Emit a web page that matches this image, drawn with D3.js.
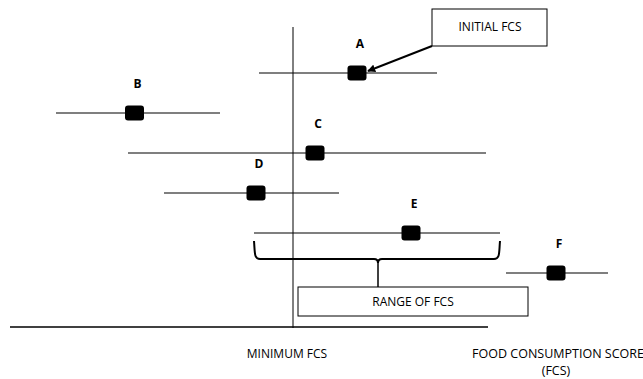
<!DOCTYPE html>
<html lang="en">
<head>
    <meta charset="UTF-8">
    <title>Food Consumption Score</title>
    <script src="https://d3js.org/d3.v7.min.js"></script>
    <style>
        body { margin: 0; background: #fff; }
        svg text { font-family: "Open Sans", sans-serif; fill: #000; }
    </style>
</head>
<body>
    <svg id="chart" width="643" height="379"></svg>

    <script>
        // Datos (puntaje FCS estimado de la figura)
        const groups = ["A", "B", "C", "D", "E", "F"];
        const lowFCS = [49.8, 9.2, 23.6, 30.8, 48.8, 99.2];
        const initialFCS = [69.4, 24.9, 61.0, 49.2, 80.2, 109.2];
        const highFCS = [85.4, 42.0, 95.2, 65.8, 98.0, 119.6];
        const minimumFCS = 56.6;
        const axisMax = 95.6;
        const rangeGroup = "E";
        const arrowGroup = "A";

        const svg = d3.select("#chart");

        // Escalas
        const x = d3.scaleLinear().domain([0, 120]).range([10, 610]);
        const y = d3.scalePoint().domain(groups).range([73, 273]);

        const data = groups.map((g, i) => ({ g, lo: lowFCS[i], init: initialFCS[i], hi: highFCS[i] }));

        // Eje horizontal
        svg.append("line")
           .attr("x1", x(0)).attr("x2", x(axisMax))
           .attr("y1", 327).attr("y2", 327)
           .attr("stroke", "#000").attr("stroke-width", 1.3);

        // Línea de FCS mínimo
        svg.append("line")
           .attr("x1", x(minimumFCS)).attr("x2", x(minimumFCS))
           .attr("y1", 27).attr("y2", 328)
           .attr("stroke", "#000").attr("stroke-width", 1);

        // Rangos
        svg.selectAll(".range")
           .data(data)
           .enter()
           .append("line")
           .attr("x1", d => x(d.lo))
           .attr("x2", d => x(d.hi))
           .attr("y1", d => y(d.g))
           .attr("y2", d => y(d.g))
           .attr("stroke", "#000")
           .attr("stroke-width", 1.1);

        // Marcadores del FCS inicial
        svg.selectAll(".marker")
           .data(data)
           .enter()
           .append("rect")
           .attr("x", d => x(d.init) - 9.5)
           .attr("y", d => y(d.g) - 7.5)
           .attr("width", 19)
           .attr("height", 15)
           .attr("rx", 3)
           .attr("fill", "#000");

        // Letras
        svg.selectAll(".label")
           .data(data)
           .enter()
           .append("text")
           .attr("x", d => x(d.init) + 3)
           .attr("y", d => y(d.g) - 25)
           .attr("text-anchor", "middle")
           .attr("font-size", "12px")
           .attr("font-weight", "bold")
           .text(d => d.g);

        // Caja "INITIAL FCS" con flecha
        svg.append("defs").append("marker")
           .attr("id", "arrow")
           .attr("viewBox", "0 0 10 10")
           .attr("refX", 9).attr("refY", 5)
           .attr("markerWidth", 4).attr("markerHeight", 4)
           .attr("orient", "auto")
           .append("path")
           .attr("d", "M0,0L10,5L0,10z")
           .attr("fill", "#000");

        const a = data.find(d => d.g === arrowGroup);
        svg.append("rect")
           .attr("x", 432).attr("y", 9)
           .attr("width", 115).attr("height", 37)
           .attr("fill", "#fff").attr("stroke", "#000").attr("stroke-width", 1);
        svg.append("text")
           .attr("x", 490).attr("y", 31)
           .attr("text-anchor", "middle")
           .attr("font-size", "12px")
           .text("INITIAL FCS");
        svg.append("line")
           .attr("x1", 432).attr("y1", 46)
           .attr("x2", x(a.init) + 11).attr("y2", y(a.g) - 2)
           .attr("stroke", "#000").attr("stroke-width", 2)
           .attr("marker-end", "url(#arrow)");

        // Llave del rango
        const e = data.find(d => d.g === rangeGroup);
        const bx0 = x(e.lo), bx1 = x(e.hi), bm = (bx0 + bx1) / 2 + 1;
        const by0 = y(e.g) + 8, by1 = y(e.g) + 26;
        svg.append("path")
           .attr("d", `M${bx0},${by0} C${bx0 + 1},${by0 + 12} ${bx0},${by1} ${bx0 + 6},${by1}
                       L${bm - 4},${by1} Q${bm},${by1} ${bm},${by1 + 4}
                       Q${bm},${by1} ${bm + 4},${by1} L${bx1 - 6},${by1}
                       C${bx1},${by1} ${bx1 - 1},${by0 + 12} ${bx1},${by0}`)
           .attr("fill", "none").attr("stroke", "#000").attr("stroke-width", 2);
        svg.append("line")
           .attr("x1", bm).attr("x2", bm)
           .attr("y1", by1 + 3).attr("y2", 287)
           .attr("stroke", "#000").attr("stroke-width", 1.5);

        svg.append("rect")
           .attr("x", 298).attr("y", 287)
           .attr("width", 230).attr("height", 29)
           .attr("fill", "#fff").attr("stroke", "#000").attr("stroke-width", 1);
        svg.append("text")
           .attr("x", 413).attr("y", 306)
           .attr("text-anchor", "middle")
           .attr("font-size", "12px")
           .text("RANGE OF FCS");

        // Títulos inferiores
        svg.append("text")
           .attr("x", x(minimumFCS) - 6).attr("y", 358)
           .attr("text-anchor", "middle")
           .attr("font-size", "12px")
           .text("MINIMUM FCS");
        svg.append("text")
           .attr("x", 558).attr("y", 358)
           .attr("text-anchor", "middle")
           .attr("font-size", "12.5px")
           .text("FOOD CONSUMPTION SCORE");
        svg.append("text")
           .attr("x", 556).attr("y", 375)
           .attr("text-anchor", "middle")
           .attr("font-size", "12.5px")
           .text("(FCS)");
    </script>
</body>
</html>
